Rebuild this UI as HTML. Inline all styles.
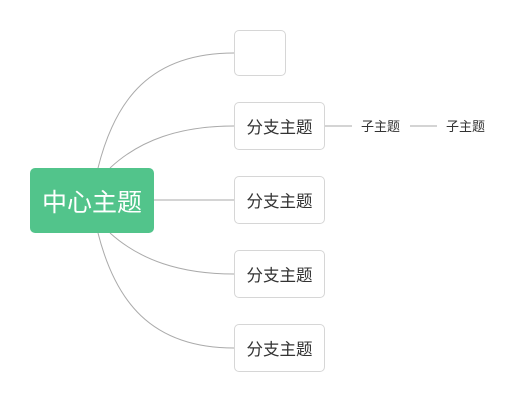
<!DOCTYPE html>
<html><head><meta charset="utf-8"><style>
body{margin:0;width:524px;height:402px;background:#fff;overflow:hidden;position:relative;font-family:"Liberation Sans","Noto Sans CJK SC",sans-serif}
.b{position:absolute;box-sizing:border-box;border:1.5px solid #d6d6d6;border-radius:5px;background:#fff;color:#333;font-size:16.5px;display:flex;align-items:center;justify-content:center}
.c{position:absolute;left:30px;top:168px;width:124px;height:65px;background:#52c48b;border-radius:5px;color:#fff;font-size:25px;display:flex;align-items:center;justify-content:center}
.s{position:absolute;font-size:13px;color:#333;top:116px}
</style></head><body>
<svg width="524" height="402" style="position:absolute;left:0;top:0" fill="none" stroke="#aaa" stroke-width="1">
<path d="M98 168 C115 100 150 53 234 53"/>
<path d="M110 168 C140 140 180 126 234 126"/>
<path d="M154 200 L234 200"/>
<path d="M110 233 C140 260 180 274 234 274"/>
<path d="M98 233 C115 300 150 348 234 348"/>
<path d="M324 126 L352 126 M410 126 L437 126"/>
</svg>
<div class="c">中心主题</div>
<div class="b" style="left:234px;top:30px;width:52px;height:46px"></div>
<div class="b" style="left:234px;top:102px;width:91px;height:48px">分支主题</div>
<div class="b" style="left:234px;top:176px;width:91px;height:48px">分支主题</div>
<div class="b" style="left:234px;top:250px;width:91px;height:48px">分支主题</div>
<div class="b" style="left:234px;top:324px;width:91px;height:48px">分支主题</div>
<div class="s" style="left:361px">子主题</div>
<div class="s" style="left:446px">子主题</div>
</body></html>
